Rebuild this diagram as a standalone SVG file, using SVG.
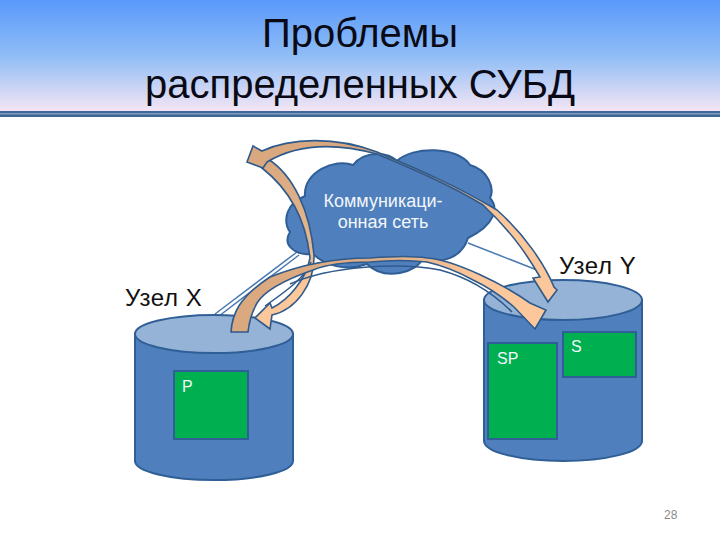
<svg xmlns="http://www.w3.org/2000/svg" width="720" height="540" viewBox="0 0 720 540">
<style>
text{font-family:"Liberation Sans",Arial,sans-serif}
.title{font-size:40px;fill:#0a0a14;text-anchor:middle}
.node{font-size:24px;letter-spacing:.6px;fill:#111}
.light{font-size:16px;fill:#f2f6fb}
.cloudtext{font-size:18px;fill:#f2f6fb;text-anchor:middle}
.cyl{fill:#4f7fbc;stroke:#2f5f96;stroke-width:2}
.top{fill:#95b3d7;stroke:#2f5f96;stroke-width:2}
.box{fill:#00b050;stroke:#2f5f96;stroke-width:2}
.link{fill:none;stroke:#4a7ab0;stroke-width:1.5}
.arrow{stroke:#2f5a8c;stroke-width:1.6;stroke-linejoin:miter}
.strand{fill:none;stroke:#2f5a8c;stroke-width:1.5}
</style>
<defs>
<linearGradient id="hdr" x1="0" y1="0" x2="0" y2="1"><stop offset="0" stop-color="#5a99fb"/><stop offset="0.5" stop-color="#8fbdf6"/><stop offset="1" stop-color="#f6e6f4"/></linearGradient>
<linearGradient id="a1" gradientUnits="userSpaceOnUse" x1="250" y1="150" x2="550" y2="290"><stop offset="0" stop-color="#d9a87f"/><stop offset="0.5" stop-color="#d9a87f"/><stop offset="0.8" stop-color="#fcc79a"/><stop offset="1" stop-color="#fcc79a"/></linearGradient>
<linearGradient id="a2" gradientUnits="userSpaceOnUse" x1="270" y1="160" x2="260" y2="320"><stop offset="0" stop-color="#d9a87f"/><stop offset="0.5" stop-color="#e6b68e"/><stop offset="0.8" stop-color="#fcc79a"/></linearGradient>
<linearGradient id="a3" gradientUnits="userSpaceOnUse" x1="230" y1="330" x2="545" y2="320"><stop offset="0" stop-color="#d9a87f"/><stop offset="0.5" stop-color="#dfae85"/><stop offset="0.8" stop-color="#fcc79a"/></linearGradient>
</defs>
<g id="header">
<rect x="0" y="0" width="720" height="112" fill="url(#hdr)"/>
<rect x="0" y="111" width="720" height="6" fill="#3e6795"/>
<rect x="0" y="113" width="720" height="1.5" fill="#7d9cc0"/>
<text class="title" x="360" y="47">Проблемы</text>
<text class="title" x="360" y="98">распределенных СУБД</text>
</g>
<g id="connectors">
<path class="link" d="M215,314L297,252M219,316L299,255"/>
<path class="link" d="M468,243L537,270"/>
</g>
<g id="node-x">
<path class="cyl" d="M135,334V461A79,19 0 0 0 293,461V334Z"/>
<ellipse class="top" cx="214" cy="334" rx="79" ry="19"/>
<rect class="box" x="174" y="371" width="74" height="68"/>
<text class="light" x="182" y="392">P</text>
<text class="node" x="125" y="306">Узел X</text>
</g>
<g id="node-y">
<path class="cyl" d="M484,300V441A79,20 0 0 0 642,441V300Z"/>
<ellipse class="top" cx="563" cy="300" rx="79" ry="20"/>
<rect class="box" x="488" y="343" width="69" height="96"/>
<rect class="box" x="563" y="332" width="73" height="45"/>
<text class="light" x="497" y="364">SP</text>
<text class="light" x="571" y="352">S</text>
<text class="node" x="559" y="274">Узел Y</text>
</g>
<g id="cloud">
<path d="M290,232C282,220 287,203 305,196C303,172 335,158 353,165C365,150 388,152 397,161C412,146 458,146 470,165C488,170 495,188 490,198C499,208 495,225 468,238C462,258 440,265 423,258C418,272 385,282 367,264C345,272 325,265 313,254C295,256 282,245 290,232Z" fill="#4f7fbc" stroke="#2f5f96" stroke-width="2"/>
<text class="cloudtext" x="383" y="207">Коммуникаци-</text>
<text class="cloudtext" x="383" y="228">онная сеть</text>
</g>
<g id="arrows">
<path class="arrow" fill="url(#a2)" d="M268,159C293,175 310,210 314,255C315,285 295,310 272,315L270,329L255,318L270,303L272,308C288,300 306,280 310,258C306,220 290,190 262,168Z"/>
<path class="strand" d="M311,262C305,278 285,292 265,306"/>
<path class="arrow" fill="url(#a1)" d="M247,162L253,146L262,151C290,138 335,136 377,152C415,168 455,185 497,210C525,235 545,265 554,287L557,290L548,302L533,278L540,277C530,260 515,235 483,205C450,185 415,170 377,154C340,144 300,142 267,162L263,168Z"/>
<path class="arrow" fill="url(#a3)" d="M231,332C232,315 238,298 270,277C300,265 335,258 370,258C395,256 415,256 427,258C455,260 505,285 530,303L546,310L535,329L514,307C500,295 490,288 473,280C455,270 440,265 427,262C410,260 390,260 370,262C345,262 325,265 313,270C290,278 265,290 257,303C252,312 249,322 248,332Z"/>
<path class="strand" d="M290,284C330,266 400,262 440,270C470,278 495,295 512,312"/>
</g>
<text x="664" y="519" font-size="12" fill="#8a8a8a">28</text>
</svg>
